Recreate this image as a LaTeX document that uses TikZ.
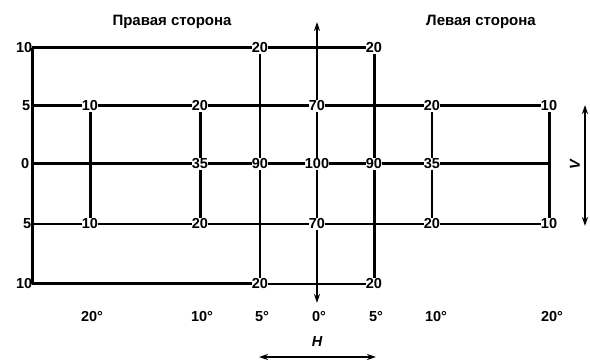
\documentclass[tikz,border=0pt]{standalone}
\usepackage{fontspec}
\setmainfont{Liberation Sans}
\usetikzlibrary{arrows.meta}
\begin{document}
\begin{tikzpicture}[x=1pt,y=-1pt,
  thickln/.style={line width=3pt},
  thinln/.style={line width=1.7pt},
  val/.style={fill=white,inner sep=0.4pt,font=\fontsize{14.5}{14.5}\selectfont\bfseries},
  lab/.style={inner sep=0.5pt,font=\fontsize{14.5}{14.5}\selectfont\bfseries},
  ttl/.style={inner sep=0pt,font=\fontsize{15}{15}\selectfont\bfseries},
  dim/.style={line width=2.2pt,{Stealth[length=9pt,width=6pt]}-{Stealth[length=9pt,width=6pt]}}]
\useasboundingbox (0,0) rectangle (590,363);
% grid coordinates
\foreach \cn/\cx in {L/32,a/90,b/200,c/260,d/317,e/374,f/432,g/549}{
  \foreach \rn/\ry in {t/48,p/106,z/164,m/224,n/284}{
    \coordinate (\cn\rn) at (\cx,\ry);
  }
}
\coordinate (dtop) at (317,22);
\coordinate (dbot) at (317,303);
% lines
\draw[thickln] (Lt) -- (et);
\draw[thickln] (Lt) -- (Ln);
\draw[thickln] (Lp) -- (gp);
\draw[thickln] (Lz) -- (gz);
\draw[thinln] (Lm) -- (gm);
\draw[thickln] (Ln) -- (cn);
\draw[thinln] (cn) -- (en);
\draw[thickln] (ap) -- (am);
\draw[thickln] (bp) -- (bm);
\draw[thinln] (ct) -- (cn);
\draw[thickln] (et) -- (en);
\draw[thinln] (fp) -- (fm);
\draw[thickln] (gp) -- (gm);
\draw[dim] (dtop) -- (dbot);
% values
\node[val] (v1) at (ct) {20};
\node[val] (v2) at (et) {20};
\node[val] (v3) at (ap) {10};
\node[val] (v4) at (bp) {20};
\node[val] (v5) at (dp) {70};
\node[val] (v6) at (fp) {20};
\node[val] (v7) at (gp) {10};
\node[val] (v8) at (bz) {35};
\node[val] (v9) at (cz) {90};
\node[val] (v10) at (dz) {100};
\node[val] (v11) at (ez) {90};
\node[val] (v12) at (fz) {35};
\node[val] (v13) at (am) {10};
\node[val] (v14) at (bm) {20};
\node[val] (v15) at (dm) {70};
\node[val] (v16) at (fm) {20};
\node[val] (v17) at (gm) {10};
\node[val] (v18) at (cn) {20};
\node[val] (v19) at (en) {20};
% left scale
\node[lab,anchor=east] (l1) at (33,48) {10};
\node[lab,anchor=east] (l2) at (31,106) {5};
\node[lab,anchor=east] (l3) at (30,164) {0};
\node[lab,anchor=east] (l4) at (32,224) {5};
\node[lab,anchor=east] (l5) at (33,284) {10};
% bottom scale
\node[lab] (h1) at (92,317) {20°};
\node[lab] (h2) at (202,317) {10°};
\node[lab] (h3) at (262,317) {5°};
\node[lab] (h4) at (319,317) {0°};
\node[lab] (h5) at (376,317) {5°};
\node[lab] (h6) at (436,317) {10°};
\node[lab] (h7) at (552,317) {20°};
% titles
\node[ttl] (t1) at (172,22) {Правая сторона};
\node[ttl] (t2) at (481,22) {Левая сторона};
% V and H
\coordinate (vtop) at (585,105);
\coordinate (vbot) at (585,226);
\draw[dim] (vtop) -- (vbot);
\node[lab,rotate=90] (vl) at (575,165) {\itshape V};
\coordinate (hl) at (259,357);
\coordinate (hr) at (376,357);
\draw[dim] (hl) -- (hr);
\node[lab] (hlab) at (317,342) {\itshape H};
\end{tikzpicture}
\end{document}
